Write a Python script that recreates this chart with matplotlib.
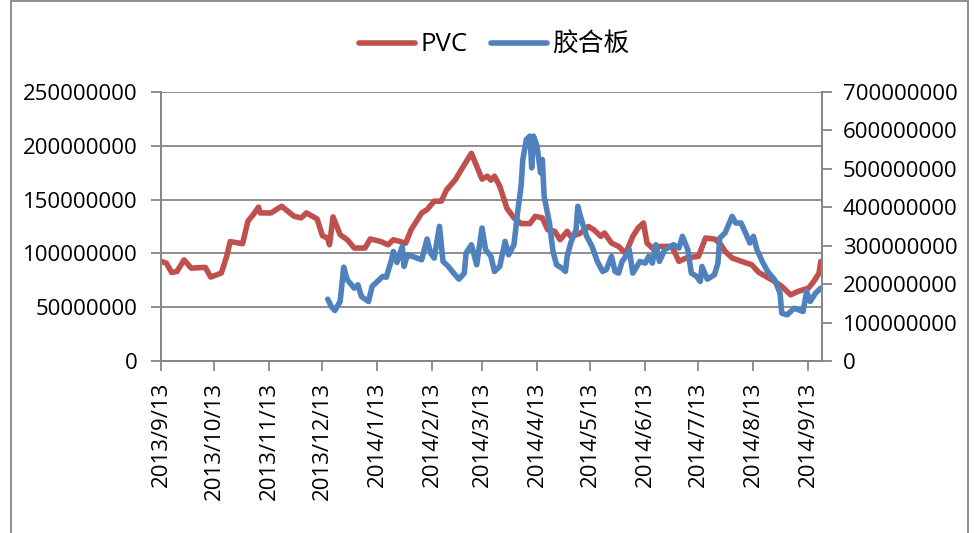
import pandas as pd
import matplotlib
matplotlib.use("Agg")
import matplotlib.pyplot as plt
from matplotlib.patches import Rectangle
from matplotlib.ticker import MultipleLocator, FuncFormatter

plt.rcParams['font.family'] = ['Open Sans', 'Noto Sans CJK SC', 'DejaVu Sans']

# PVC (left axis), values in millions
pvc_dates = [
    "2013-09-13", "2013-09-16", "2013-09-19", "2013-09-22", "2013-09-26", "2013-09-30",
    "2013-10-08", "2013-10-11", "2013-10-17", "2013-10-20", "2013-10-22", "2013-10-29",
    "2013-11-01", "2013-11-04", "2013-11-07", "2013-11-08", "2013-11-14", "2013-11-20",
    "2013-11-27", "2013-12-01", "2013-12-04", "2013-12-10", "2013-12-13", "2013-12-16",
    "2013-12-17", "2013-12-19", "2013-12-23", "2013-12-27", "2013-12-31", "2014-01-06",
    "2014-01-09", "2014-01-15", "2014-01-19", "2014-01-22", "2014-01-29", "2014-02-01",
    "2014-02-07", "2014-02-10", "2014-02-14", "2014-02-18", "2014-02-21", "2014-02-26",
    "2014-03-01", "2014-03-07", "2014-03-13", "2014-03-16", "2014-03-18", "2014-03-20",
    "2014-03-23", "2014-03-27", "2014-03-31", "2014-04-04", "2014-04-09", "2014-04-12",
    "2014-04-16", "2014-04-19", "2014-04-23", "2014-04-26", "2014-04-30", "2014-05-02",
    "2014-05-07", "2014-05-12", "2014-05-15", "2014-05-19", "2014-05-21", "2014-05-25",
    "2014-05-29", "2014-06-02", "2014-06-06", "2014-06-09", "2014-06-12", "2014-06-14",
    "2014-06-18", "2014-06-21", "2014-06-28", "2014-07-02", "2014-07-06", "2014-07-13",
    "2014-07-17", "2014-07-22", "2014-07-25", "2014-07-28", "2014-08-01", "2014-08-08",
    "2014-08-12", "2014-08-16", "2014-08-21", "2014-08-25", "2014-08-29", "2014-09-03",
    "2014-09-07", "2014-09-13", "2014-09-16", "2014-09-19", "2014-09-20",
]
pvc_values = [
    92.6, 91, 82.3, 83.2, 94, 86.3,
    87, 78, 81.7, 97, 111, 109,
    130, 136, 143, 137.6, 137.6, 143.8,
    134.5, 133, 137.6, 132, 116.5, 114,
    108, 133.9, 117.4, 112.7, 105, 105,
    113.4, 111, 108, 112.7, 109.6, 122,
    137.6, 140.7, 148.5, 148.5, 159, 168.6,
    177, 193, 169, 171.8, 168, 171.8,
    162.4, 142, 133, 127.7, 127.7, 134.5,
    133, 122, 120.5, 112.7, 120.5, 115.8,
    118.3, 125, 122, 115.8, 119, 109.6,
    106.5, 100, 115.8, 123.6, 128.3, 109.6,
    103.4, 106.5, 106.5, 92.6, 95.7, 97.2,
    114.3, 113.4, 109.6, 102, 95.7, 91.6,
    89.5, 82.3, 77.7, 73.9, 69.3, 61.5,
    64.6, 67.7, 73.9, 81.7, 92.6,
]

# 胶合板 (right axis), values in millions
ply_dates = [
    "2013-12-16", "2013-12-18", "2013-12-20", "2013-12-23", "2013-12-25", "2013-12-27",
    "2013-12-31", "2014-01-02", "2014-01-04", "2014-01-08", "2014-01-10", "2014-01-13",
    "2014-01-16", "2014-01-18", "2014-01-21", "2014-01-22", "2014-01-24", "2014-01-27",
    "2014-01-28", "2014-01-30", "2014-02-07", "2014-02-10", "2014-02-12", "2014-02-14",
    "2014-02-17", "2014-02-19", "2014-02-22", "2014-02-25", "2014-02-28", "2014-03-03",
    "2014-03-04", "2014-03-07", "2014-03-10", "2014-03-13", "2014-03-15", "2014-03-18",
    "2014-03-20", "2014-03-23", "2014-03-26", "2014-03-28", "2014-03-31", "2014-04-02",
    "2014-04-04", "2014-04-05", "2014-04-07", "2014-04-09", "2014-04-10", "2014-04-11",
    "2014-04-13", "2014-04-15", "2014-04-16", "2014-04-17", "2014-04-20", "2014-04-22",
    "2014-04-24", "2014-04-27", "2014-04-29", "2014-04-30", "2014-05-02", "2014-05-05",
    "2014-05-06", "2014-05-08", "2014-05-11", "2014-05-14", "2014-05-17", "2014-05-20",
    "2014-05-22", "2014-05-25", "2014-05-27", "2014-05-29", "2014-05-31", "2014-06-02",
    "2014-06-04", "2014-06-06", "2014-06-10", "2014-06-13", "2014-06-15", "2014-06-17",
    "2014-06-19", "2014-06-21", "2014-06-24", "2014-06-29", "2014-07-02", "2014-07-04",
    "2014-07-07", "2014-07-09", "2014-07-12", "2014-07-14", "2014-07-15", "2014-07-18",
    "2014-07-22", "2014-07-24", "2014-07-25", "2014-07-28", "2014-08-01", "2014-08-03",
    "2014-08-06", "2014-08-09", "2014-08-11", "2014-08-13", "2014-08-15", "2014-08-18",
    "2014-08-21", "2014-08-25", "2014-08-28", "2014-08-29", "2014-09-01", "2014-09-05",
    "2014-09-10", "2014-09-12", "2014-09-14", "2014-09-17", "2014-09-20",
]
ply_values = [
    160.9, 141.7, 131.3, 154.8, 244.3, 211.3,
    189.6, 198.3, 167.8, 154.8, 193.9, 207,
    220, 218, 263.5, 285, 256.5, 298,
    246, 276.5, 263.5, 317.4, 280.9, 267.8,
    350.4, 259.1, 246, 228.7, 213, 228.7,
    280.9, 302.6, 250.4, 346, 289.6, 272.2,
    233, 246, 311.3, 276.5, 302.6, 385.2,
    454.8, 524.4, 576.5, 585.2, 502.6, 585.2,
    559.2, 489.6, 524.4, 428.7, 359.1, 285.2,
    250.4, 241.7, 233, 272.2, 307, 341.7,
    402.6, 367.8, 324.4, 298.3, 259.1, 233,
    237.4, 272.2, 233, 228.7, 259.1, 272.2,
    289.6, 228.7, 259.1, 254.8, 272.2, 254.8,
    302.6, 259.1, 289.6, 302.6, 293.9, 324.4,
    289.6, 228.7, 220, 207, 246, 213,
    224.4, 254.8, 320, 333, 376.5, 359.1,
    359.1, 328.7, 307, 324.4, 289.6, 259.1,
    233, 211.3, 176.5, 124.4, 120, 137.4,
    128.7, 180.9, 154.8, 176.5, 189.6,
]

tick_dates = pd.date_range("2013-09-13", "2014-09-13", freq=pd.DateOffset(months=1))

pvc = pd.Series([v * 1e6 for v in pvc_values], index=pd.to_datetime(pvc_dates))
ply = pd.Series([v * 1e6 for v in ply_values], index=pd.to_datetime(ply_dates))

grey = '#868686'
fs = 16

fig = plt.figure(figsize=(9.76, 5.33), dpi=100)
ax = fig.add_axes([161 / 976, 1 - 361 / 533, (822 - 161) / 976, (361 - 92) / 533])
ax2 = ax.twinx()

l1, = ax.plot(pvc.index, pvc.values, color='#C0504D', lw=4, solid_capstyle='round',
              solid_joinstyle='round', label='PVC')
l2, = ax2.plot(ply.index, ply.values, color='#4F81BD', lw=4, solid_capstyle='round',
               solid_joinstyle='round', label='胶合板')

ax.set_xlim(pd.Timestamp("2013-09-13"), pd.Timestamp("2014-09-20 16:00"))
ax.set_ylim(0, 250e6)
ax2.set_ylim(0, 700e6)
ax.yaxis.set_major_locator(MultipleLocator(50e6))
ax2.yaxis.set_major_locator(MultipleLocator(100e6))
fmt = FuncFormatter(lambda v, p: f"{int(round(v))}")
ax.yaxis.set_major_formatter(fmt)
ax2.yaxis.set_major_formatter(fmt)

ax.set_xticks(tick_dates)
ax.set_xticklabels([f"{d.year}/{d.month}/{d.day}" for d in tick_dates], rotation=90)

ax.grid(axis='y', color=grey, lw=1.3)
ax.set_axisbelow(True)
for a in (ax, ax2):
    a.spines['top'].set_visible(False)
    for s in ('left', 'right', 'bottom'):
        a.spines[s].set_color(grey)
        a.spines[s].set_linewidth(1.3)
    a.tick_params(colors=grey, labelcolor='black', labelsize=fs, length=7, width=1.3)
ax.tick_params(axis='y', pad=10)
ax2.tick_params(axis='y', pad=8)
ax.tick_params(axis='x', pad=8)

leg = fig.legend(handles=[l1, l2], loc='center', bbox_to_anchor=(494 / 976, 1 - 45 / 533),
                 ncol=2, frameon=False, fontsize=18.5, handlelength=2.2, handletextpad=0.2,
                 columnspacing=0.9)

fig.patches.append(Rectangle((11 / 976, -0.02), (968 - 11) / 976, 1.02 - 1 / 533,
                             transform=fig.transFigure, fill=False, edgecolor=grey, lw=1.3))

fig.savefig("out.png", dpi=100)
